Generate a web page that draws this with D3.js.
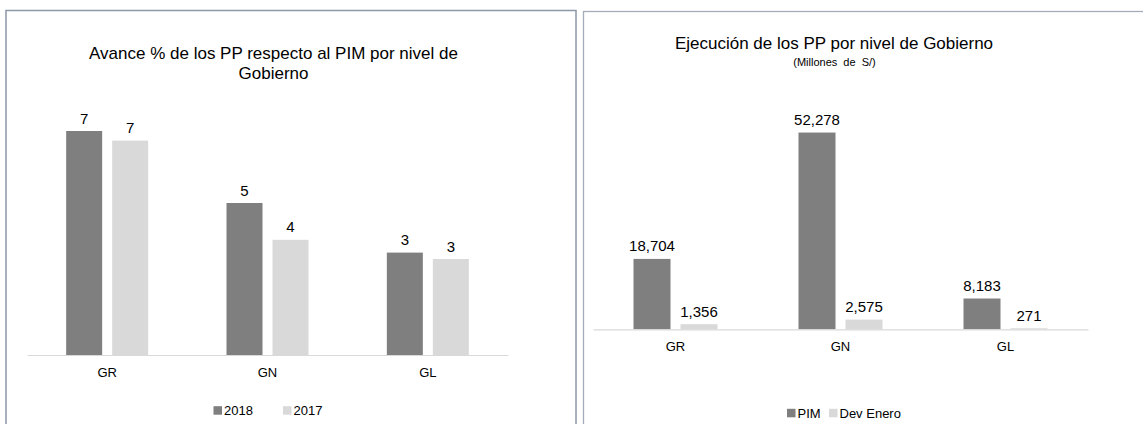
<!DOCTYPE html>
<html>
<head>
<meta charset="utf-8">
<script src="https://cdn.jsdelivr.net/npm/d3@7"></script>
<style>
  html, body { margin: 0; padding: 0; background: #fff; }
  svg { display: block; font-family: "Liberation Sans", Arial, sans-serif; }
</style>
</head>
<body>
<svg id="chart" width="1143" height="424"></svg>
<script>
// ---- Data ----
const categories = ["GR", "GN", "GL"];
const avanceSeries = ["2018", "2017"];
const avance2018 = [7.0, 4.75, 3.2];
const avance2017 = [6.7, 3.6, 3.0];
const ejecSeries = ["PIM", "Dev Enero"];
const pim = [18704, 52278, 8183];
const devEnero = [1356, 2575, 271];
const leftTitle = ["Avance % de los PP respecto al PIM por nivel de", "Gobierno"];
const rightTitle = "Ejecución de los PP por nivel de Gobierno";
const rightSubtitle = "(Millones de S/)";

const DARK = "#7f7f7f", LIGHT = "#d9d9d9", AXIS = "#d9d9d9", BORDER = "#8c97a6";

const svg = d3.select("#chart");
svg.append("rect").attr("width", 1143).attr("height", 424).attr("fill", "#fff");

// Panel borders
svg.append("rect").attr("x", 6).attr("y", 10.5).attr("width", 570).attr("height", 430)
  .attr("fill", "none").attr("stroke", BORDER).attr("stroke-width", 1.5);
svg.append("rect").attr("x", 583.5).attr("y", 11.5).attr("width", 600).attr("height", 430)
  .attr("fill", "none").attr("stroke", "#a3acb8").attr("stroke-width", 1.3);

function drawChart(cfg) {
  const g = svg.append("g");
  const x = d3.scaleBand().domain(categories).range(cfg.xRange).padding(0);
  const groupW = cfg.barW * 2 + cfg.gap;
  const step = cfg.barW + cfg.gap;
  const xs = d3.scaleBand().domain(cfg.series).range([0, groupW])
    .paddingInner(1 - cfg.barW / step).paddingOuter(0);
  const y = d3.scaleLinear().domain(cfg.yDomain).range([cfg.base, cfg.yTop]);

  const rows = categories.map((c, i) => ({ c, vals: cfg.values.map((arr, k) => ({ s: cfg.series[k], v: arr[i], k })) }));

  const grp = g.selectAll("g.grp").data(rows).join("g")
    .attr("transform", d => `translate(${x(d.c) + x.bandwidth() / 2 - groupW / 2},0)`);

  grp.selectAll("rect").data(d => d.vals).join("rect")
    .attr("x", d => xs(d.s))
    .attr("width", xs.bandwidth())
    .attr("y", d => y(d.v))
    .attr("height", d => cfg.base - y(d.v))
    .attr("fill", d => d.k === 0 ? DARK : LIGHT);

  grp.selectAll("text").data(d => d.vals).join("text")
    .attr("x", d => xs(d.s) + xs.bandwidth() / 2)
    .attr("y", d => y(d.v) - 7.5)
    .attr("text-anchor", "middle")
    .attr("font-size", 15)
    .attr("fill", "#000")
    .text(d => cfg.fmt(d.v));

  // Axis
  const ax = g.append("g").attr("transform", `translate(0,${cfg.base})`)
    .call(d3.axisBottom(x).tickSize(0).tickSizeOuter(0).tickPadding(12.5));
  ax.select(".domain").attr("stroke", AXIS).attr("stroke-width", 1.2);
  ax.selectAll("text").attr("font-size", 13).attr("fill", "#000")
    .attr("font-family", '"Liberation Sans", Arial, sans-serif');

  // Legend
  const lg = g.append("g");
  cfg.series.forEach((s, k) => {
    lg.append("rect").attr("x", cfg.legendX[k]).attr("y", cfg.legendY - 4.5)
      .attr("width", 8.5).attr("height", 8.5).attr("fill", k === 0 ? DARK : LIGHT);
    lg.append("text").attr("x", cfg.legendX[k] + 10.5).attr("y", cfg.legendY + 4.6)
      .attr("font-size", 13).attr("fill", "#000").text(s);
  });
}

// Left chart
drawChart({
  xRange: [27, 508], barW: 36, gap: 10, base: 355, yTop: 99, yDomain: [0, 8],
  series: avanceSeries, values: [avance2018, avance2017], fmt: d3.format(".0f"),
  legendX: [213.5, 283], legendY: 410.7
});
svg.append("text").attr("x", 273.5).attr("y", 59).attr("text-anchor", "middle")
  .attr("font-size", 17).text(leftTitle[0]);
svg.append("text").attr("x", 273.5).attr("y", 79).attr("text-anchor", "middle")
  .attr("font-size", 17).text(leftTitle[1]);

// Right chart
drawChart({
  xRange: [593, 1088], barW: 37, gap: 10, base: 329.3, yTop: 103.5, yDomain: [0, 60000],
  series: ejecSeries, values: [pim, devEnero], fmt: d3.format(",.0f"),
  legendX: [787, 829], legendY: 413.3
});
svg.append("text").attr("x", 834).attr("y", 49).attr("text-anchor", "middle")
  .attr("font-size", 17).text(rightTitle);
svg.append("text").attr("x", 834.5).attr("y", 66).attr("text-anchor", "middle")
  .attr("font-size", 11).attr("word-spacing", 3).text(rightSubtitle);
</script>
</body>
</html>
